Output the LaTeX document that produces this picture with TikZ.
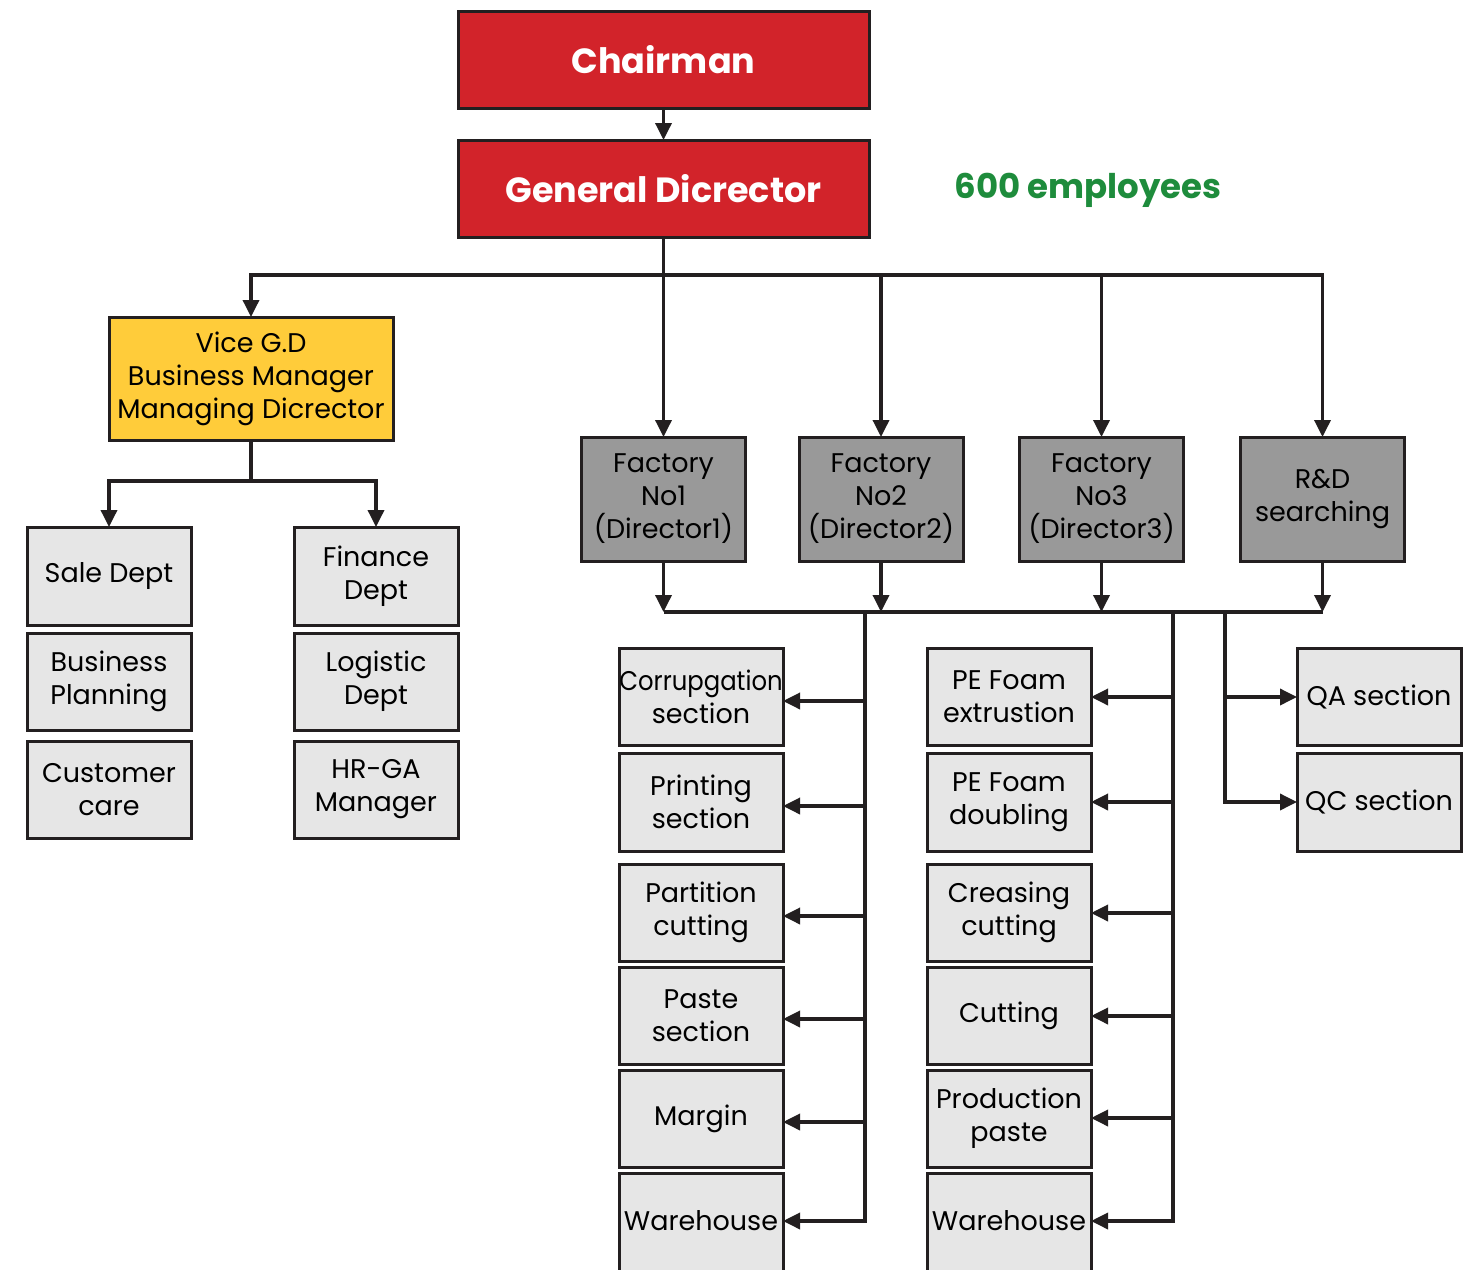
\documentclass[tikz,border=0pt]{standalone}
\usepackage{fontspec}
\usepackage{graphicx}
\setmainfont{Poppins}
\usetikzlibrary{arrows.meta}
\definecolor{cred}{HTML}{D2232A}
\definecolor{cyel}{HTML}{FFCC3A}
\definecolor{cgray}{HTML}{999999}
\definecolor{clight}{HTML}{E6E6E6}
\definecolor{cline}{HTML}{231F20}
\definecolor{cgreen}{HTML}{1E8C3C}
\tikzset{
  boxbase/.style={draw=cline, line width=3pt, inner sep=0pt, outer sep=0pt, align=center,
    font=\fontsize{27}{33}\selectfont},
  redbox/.style={boxbase, fill=cred, text=white, minimum width=411pt, minimum height=97pt,
    font=\fontsize{35}{40}\bfseries\selectfont},
  yelbox/.style={boxbase, fill=cyel, minimum width=284pt, minimum height=123pt},
  facbox/.style={boxbase, fill=cgray, minimum width=164pt, minimum height=124pt},
  lbox/.style={boxbase, fill=clight, minimum width=164pt, minimum height=97pt},
  conn/.style={draw=cline, line width=3.5pt},
  arr/.style={conn, -{Triangle[length=17pt,width=16pt]}},
}
\begin{document}
\begin{tikzpicture}[x=1pt,y=-1pt]
\clip (0,0) rectangle (1474,1269);
\fill[white] (0,0) rectangle (1474,1269);

% top
\node[redbox] (chair) at (663.5,59.5) {Chairman};
\node[redbox] (gd) at (663.5,188.5) {General Dicrector};
\node[text=cgreen, font=\fontsize{34}{40}\bfseries\selectfont] (emp) at (1088,190) {600 employees};

% vice branch
\node[yelbox] (vice) at (251,378.5) {Vice G.D\\Business Manager\\Managing Dicrector};
\node[lbox, minimum height=98pt] (sale) at (109,576) {Sale Dept};
\node[lbox] (bplan) at (109,681.5) {Business\\Planning};
\node[lbox] (cust) at (109,789.5) {Customer\\care};
\node[lbox, minimum height=98pt] (fin) at (376,576) {Finance\\Dept};
\node[lbox] (logi) at (376,681.5) {Logistic\\Dept};
\node[lbox] (hr) at (376,789.5) {HR-GA\\Manager};

% factories
\node[facbox] (f1) at (663.5,499) {Factory\\No1\\(Director1)};
\node[facbox] (f2) at (881,499) {Factory\\No2\\(Director2)};
\node[facbox] (f3) at (1101.5,499) {Factory\\No3\\(Director3)};
\node[facbox] (rd) at (1322.5,499) {R\&D\\searching};

% sections left
\node[lbox] (s1) at (701,696.5) {\makebox[0pt][c]{\scalebox{0.9}[1]{Corrupgation}}\\section};
\node[lbox, minimum height=98pt] (s2) at (701,802) {Printing\\section};
\node[lbox] (s3) at (701,912.5) {Partition\\cutting};
\node[lbox] (s4) at (701,1015.5) {Paste\\section};
\node[lbox] (s5) at (701,1118.5) {Margin};
\node[lbox, minimum height=120pt, label={[font=\fontsize{27}{33}\selectfont, yshift=12pt]center:Warehouse}] (s6) at (701,1233) {};

% sections middle
\node[lbox] (m1) at (1009,696.5) {PE Foam\\extrustion};
\node[lbox, minimum height=98pt] (m2) at (1009,802) {PE Foam\\doubling};
\node[lbox] (m3) at (1009,912.5) {Creasing\\cutting};
\node[lbox] (m4) at (1009,1015.5) {Cutting};
\node[lbox] (m5) at (1009,1118.5) {Production\\paste};
\node[lbox, minimum height=120pt, label={[font=\fontsize{27}{33}\selectfont, yshift=12pt]center:Warehouse}] (m6) at (1009,1233) {};

% QA QC
\node[lbox] (qa) at (1379,696.5) {QA section};
\node[lbox, minimum height=98pt] (qc) at (1379,802) {QC section};

% connectors top
\draw[arr] (chair.south) -- (gd.north);
\coordinate (tb) at (663.5,275);
\draw[arr] (gd.south) -- (f1.north);
\draw[arr] (tb) -| (vice.north);
\draw[arr] (tb) -| (f2.north);
\draw[arr] (tb) -| (f3.north);
\draw[arr] (tb) -| (rd.north);

% vice branch
\coordinate (vb) at (251,481);
\draw[conn] (vice.south) -- (vb);
\draw[arr] (vb) -| (sale.north);
\draw[arr] (vb) -| (fin.north);

% factory bus
\coordinate (bl) at (663.5,612);
\coordinate (br) at (1322.5,612);
\draw[conn] (bl) -- (br);
\draw[arr] (f1.south) -- (f1.south |- bl);
\draw[arr] (f2.south) -- (f2.south |- bl);
\draw[arr] (f3.south) -- (f3.south |- bl);
\draw[arr] (rd.south) -- (rd.south |- bl);

% trunks
\coordinate (t1) at (865,612);
\coordinate (t2) at (1173,612);
\coordinate (t3) at (1225,612);
\draw[conn] (t1) -- (t1 |- 0,1222.7);
\draw[conn] (t2) -- (t2 |- 0,1222.7);
\draw[conn] (t3) -- (t3 |- 0,803.7);

\foreach \n/\y in {s1/701,s2/806,s3/916,s4/1019,s5/1122,s6/1221}{
  \draw[arr] (866.7,\y) -- (\n.east |- 0,\y);
}
\foreach \n/\y in {m1/697,m2/802,m3/913,m4/1016,m5/1118,m6/1221}{
  \draw[arr] (1174.7,\y) -- (\n.east |- 0,\y);
}
\draw[arr] (1223.3,697) -- (qa.west |- 0,697);
\draw[arr] (1223.3,802) -- (qc.west |- 0,802);
\end{tikzpicture}
\end{document}
